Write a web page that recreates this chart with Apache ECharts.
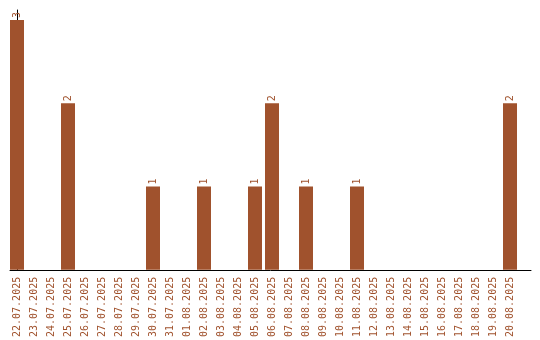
<!DOCTYPE html>
<html>
<head>
<meta charset="utf-8">
<script src="https://cdn.jsdelivr.net/npm/echarts@6/dist/echarts.min.js"></script>
<style>
  html, body { margin: 0; padding: 0; background: #fff; }
  #chart { width: 540px; height: 340px; }
</style>
</head>
<body>
<div id="chart"></div>
<script>
// Daily counts, 22.07.2025 – 20.08.2025
const categories = [
  '22.07.2025', '23.07.2025', '24.07.2025', '25.07.2025', '26.07.2025',
  '27.07.2025', '28.07.2025', '29.07.2025', '30.07.2025', '31.07.2025',
  '01.08.2025', '02.08.2025', '03.08.2025', '04.08.2025', '05.08.2025',
  '06.08.2025', '07.08.2025', '08.08.2025', '09.08.2025', '10.08.2025',
  '11.08.2025', '12.08.2025', '13.08.2025', '14.08.2025', '15.08.2025',
  '16.08.2025', '17.08.2025', '18.08.2025', '19.08.2025', '20.08.2025'
];
const counts = [
  3, 0, 0, 2, 0,
  0, 0, 0, 1, 0,
  0, 1, 0, 0, 1,
  2, 0, 1, 0, 0,
  1, 0, 0, 0, 0,
  0, 0, 0, 0, 2
];

const barColor = '#a0522d';
const labelFont = 'DejaVu Sans Mono';

// Bars sit on a numeric x scale (one unit per day) so the axis line can run
// a little past the last day.
const barData = counts
  .map((v, i) => [i, v])
  .filter(d => d[1] > 0);

const chart = echarts.init(document.getElementById('chart'), null, { renderer: 'canvas' });
chart.setOption({
  animation: false,
  grid: { left: 10, top: 10, right: 9, bottom: 70, containLabel: false },
  xAxis: {
    type: 'value',
    min: -0.4118,
    max: 30.235,
    axisLine: { show: true, onZero: false, lineStyle: { color: '#000', width: 1 } },
    axisTick: { show: false },
    splitLine: { show: false },
    axisLabel: {
      customValues: categories.map((c, i) => i),
      formatter: v => categories[Math.round(v)] || '',
      rotate: 90,
      margin: 7,
      color: barColor,
      fontFamily: labelFont,
      fontSize: 10
    }
  },
  yAxis: {
    type: 'value',
    min: 0,
    max: 3.12,
    axisLine: { show: true, lineStyle: { color: '#000', width: 1 } },
    axisTick: { show: false },
    axisLabel: { show: false },
    splitLine: { show: false }
  },
  series: [{
    type: 'bar',
    data: barData,
    barWidth: 14,
    itemStyle: { color: barColor },
    label: {
      show: true,
      position: 'top',
      distance: 2,
      rotate: 90,
      align: 'left',
      verticalAlign: 'middle',
      color: barColor,
      fontFamily: labelFont,
      fontSize: 10,
      formatter: p => p.value[1]
    }
  }]
});
</script>
</body>
</html>
